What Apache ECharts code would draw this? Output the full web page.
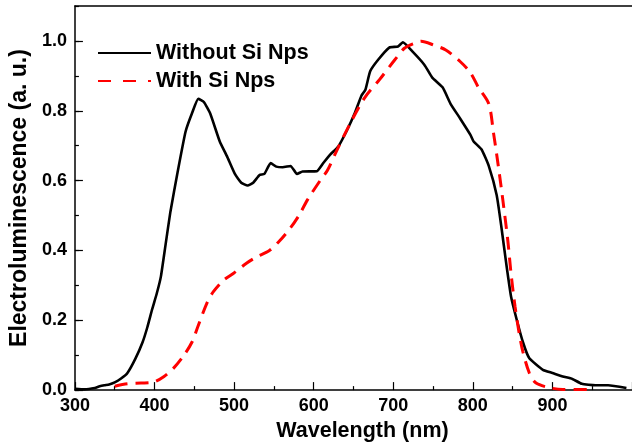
<!DOCTYPE html>
<html>
<head>
<meta charset="utf-8">
<script src="https://cdn.jsdelivr.net/npm/echarts@6/dist/echarts.min.js"></script>
<style>html,body{margin:0;padding:0;background:#fff}#c{width:632px;height:447px}</style>
</head>
<body>
<div id="c"></div>
<script>
var seriesNames = ['Without Si Nps', 'With Si Nps'];
var xTitle = 'Wavelength (nm)';
var yTitle = 'Electroluminescence (a. u.)';

var withoutX = [300,312,325,331,337,343,350,358,366,376,385,391,397,403,408,414,420,429,439,447,455,462,470,482,491,501,509,517,524,532,538,546,553,561,571,579,586,604,612,621,631,642,652,660,665,671,681,695,706,712,724,739,749,762,772,784,797,801,811,820,830,836,842,848,855,863,871,888,900,913,925,937,954,970,993];
var withoutY = [0.004,0.002,0.006,0.011,0.014,0.016,0.022,0.033,0.049,0.090,0.137,0.180,0.231,0.278,0.325,0.418,0.511,0.624,0.740,0.792,0.834,0.825,0.792,0.712,0.670,0.619,0.594,0.586,0.594,0.616,0.619,0.650,0.640,0.638,0.642,0.619,0.626,0.627,0.650,0.675,0.698,0.745,0.795,0.843,0.860,0.913,0.946,0.981,0.984,0.996,0.970,0.932,0.895,0.867,0.820,0.778,0.731,0.712,0.689,0.642,0.558,0.465,0.362,0.268,0.203,0.137,0.091,0.058,0.049,0.039,0.032,0.018,0.014,0.014,0.006];

var withX = [350,366,383,399,412,424,437,447,455,466,474,487,499,516,528,544,557,571,582,592,609,617,629,646,664,683,702,714,726,735,751,766,784,797,807,820,826,832,838,844,848,853,858,863,871,879,896,913,945];
var withY = [0.011,0.018,0.020,0.023,0.039,0.063,0.100,0.137,0.185,0.250,0.282,0.315,0.334,0.364,0.381,0.399,0.427,0.465,0.502,0.544,0.603,0.628,0.686,0.764,0.837,0.890,0.946,0.979,0.993,0.999,0.988,0.974,0.941,0.909,0.867,0.820,0.736,0.642,0.539,0.427,0.334,0.240,0.166,0.109,0.049,0.021,0.007,0.002,0.002];

function pairs(xs, ys) { return xs.map(function (x, i) { return [x, ys[i]]; }); }

var FONT = "'Liberation Sans', Arial, sans-serif";
var chart = echarts.init(document.getElementById('c'), null, {renderer: 'canvas'});
chart.setOption({
  animation: false,
  backgroundColor: '#fff',
  grid: {left: 73, top: 6, right: -8, bottom: 48},
  legend: {
    orient: 'vertical', left: 97, top: 42, padding: 0,
    itemWidth: 53, itemHeight: 14, itemGap: 6,
    itemStyle: {opacity: 0, borderWidth: 0},
    textStyle: {fontFamily: FONT, fontWeight: 'bold', fontSize: 21.5, color: '#000'},
    data: [
      {name: seriesNames[0]},
      {name: seriesNames[1], lineStyle: {type: [13, 12]}}
    ]
  },
  xAxis: [{
    type: 'value', min: 300, max: 1000, interval: 100, position: 'bottom',
    axisLine: {onZero: false, lineStyle: {color: '#000', width: 1.5}},
    axisTick: {inside: true, length: 8, lineStyle: {color: '#000', width: 1.2}},
    minorTick: {show: true, splitNumber: 2, length: 4, lineStyle: {color: '#000', width: 1.2}},
    axisLabel: {margin: 7, fontFamily: FONT, fontWeight: 'bold', fontSize: 18, color: '#000', showMaxLabel: false},
    splitLine: {show: false},
    name: xTitle, nameLocation: 'middle', nameGap: 22,
    nameTextStyle: {fontFamily: FONT, fontWeight: 'bold', fontSize: 21.5, color: '#000', padding: [0, 0, 0, 18]}
  }, {
    type: 'value', min: 300, max: 1000, position: 'top',
    axisLine: {onZero: false, lineStyle: {color: '#000', width: 1.5}},
    axisTick: {show: false}, axisLabel: {show: false}, splitLine: {show: false}
  }],
  yAxis: [{
    type: 'value', min: 0, max: 1.1, interval: 0.2, position: 'left',
    axisLine: {show: true, onZero: false, lineStyle: {color: '#000', width: 1.5}},
    axisTick: {inside: true, length: 8, lineStyle: {color: '#000', width: 1.2}},
    axisLabel: {margin: 8, fontFamily: FONT, fontWeight: 'bold', fontSize: 18, color: '#000', showMaxLabel: false,
      formatter: function (v) { return v > 1.05 ? '' : v.toFixed(1); }},
    splitLine: {show: false},
    name: yTitle, nameLocation: 'middle', nameGap: 36,
    nameTextStyle: {fontFamily: FONT, fontWeight: 'bold', fontSize: 23, color: '#000'}
  }, {
    type: 'value', min: 0, max: 1.1, interval: 0.1, position: 'left',
    axisLine: {show: false},
    axisTick: {inside: true, length: 4, lineStyle: {color: '#000', width: 1.2}},
    axisLabel: {show: false}, splitLine: {show: false}
  }],
  series: [{
    name: seriesNames[0], type: 'line', xAxisIndex: 0, yAxisIndex: 0,
    data: pairs(withoutX, withoutY), symbol: 'none', smooth: 0.15,
    lineStyle: {color: '#000', width: 2.6}, itemStyle: {color: '#000'}
  }, {
    name: seriesNames[1], type: 'line', xAxisIndex: 0, yAxisIndex: 0,
    data: pairs(withX, withY), symbol: 'none', smooth: 0.3,
    lineStyle: {color: '#ff0000', width: 3, type: [13, 8]}, itemStyle: {color: '#ff0000'}
  }]
});
</script>
</body>
</html>
